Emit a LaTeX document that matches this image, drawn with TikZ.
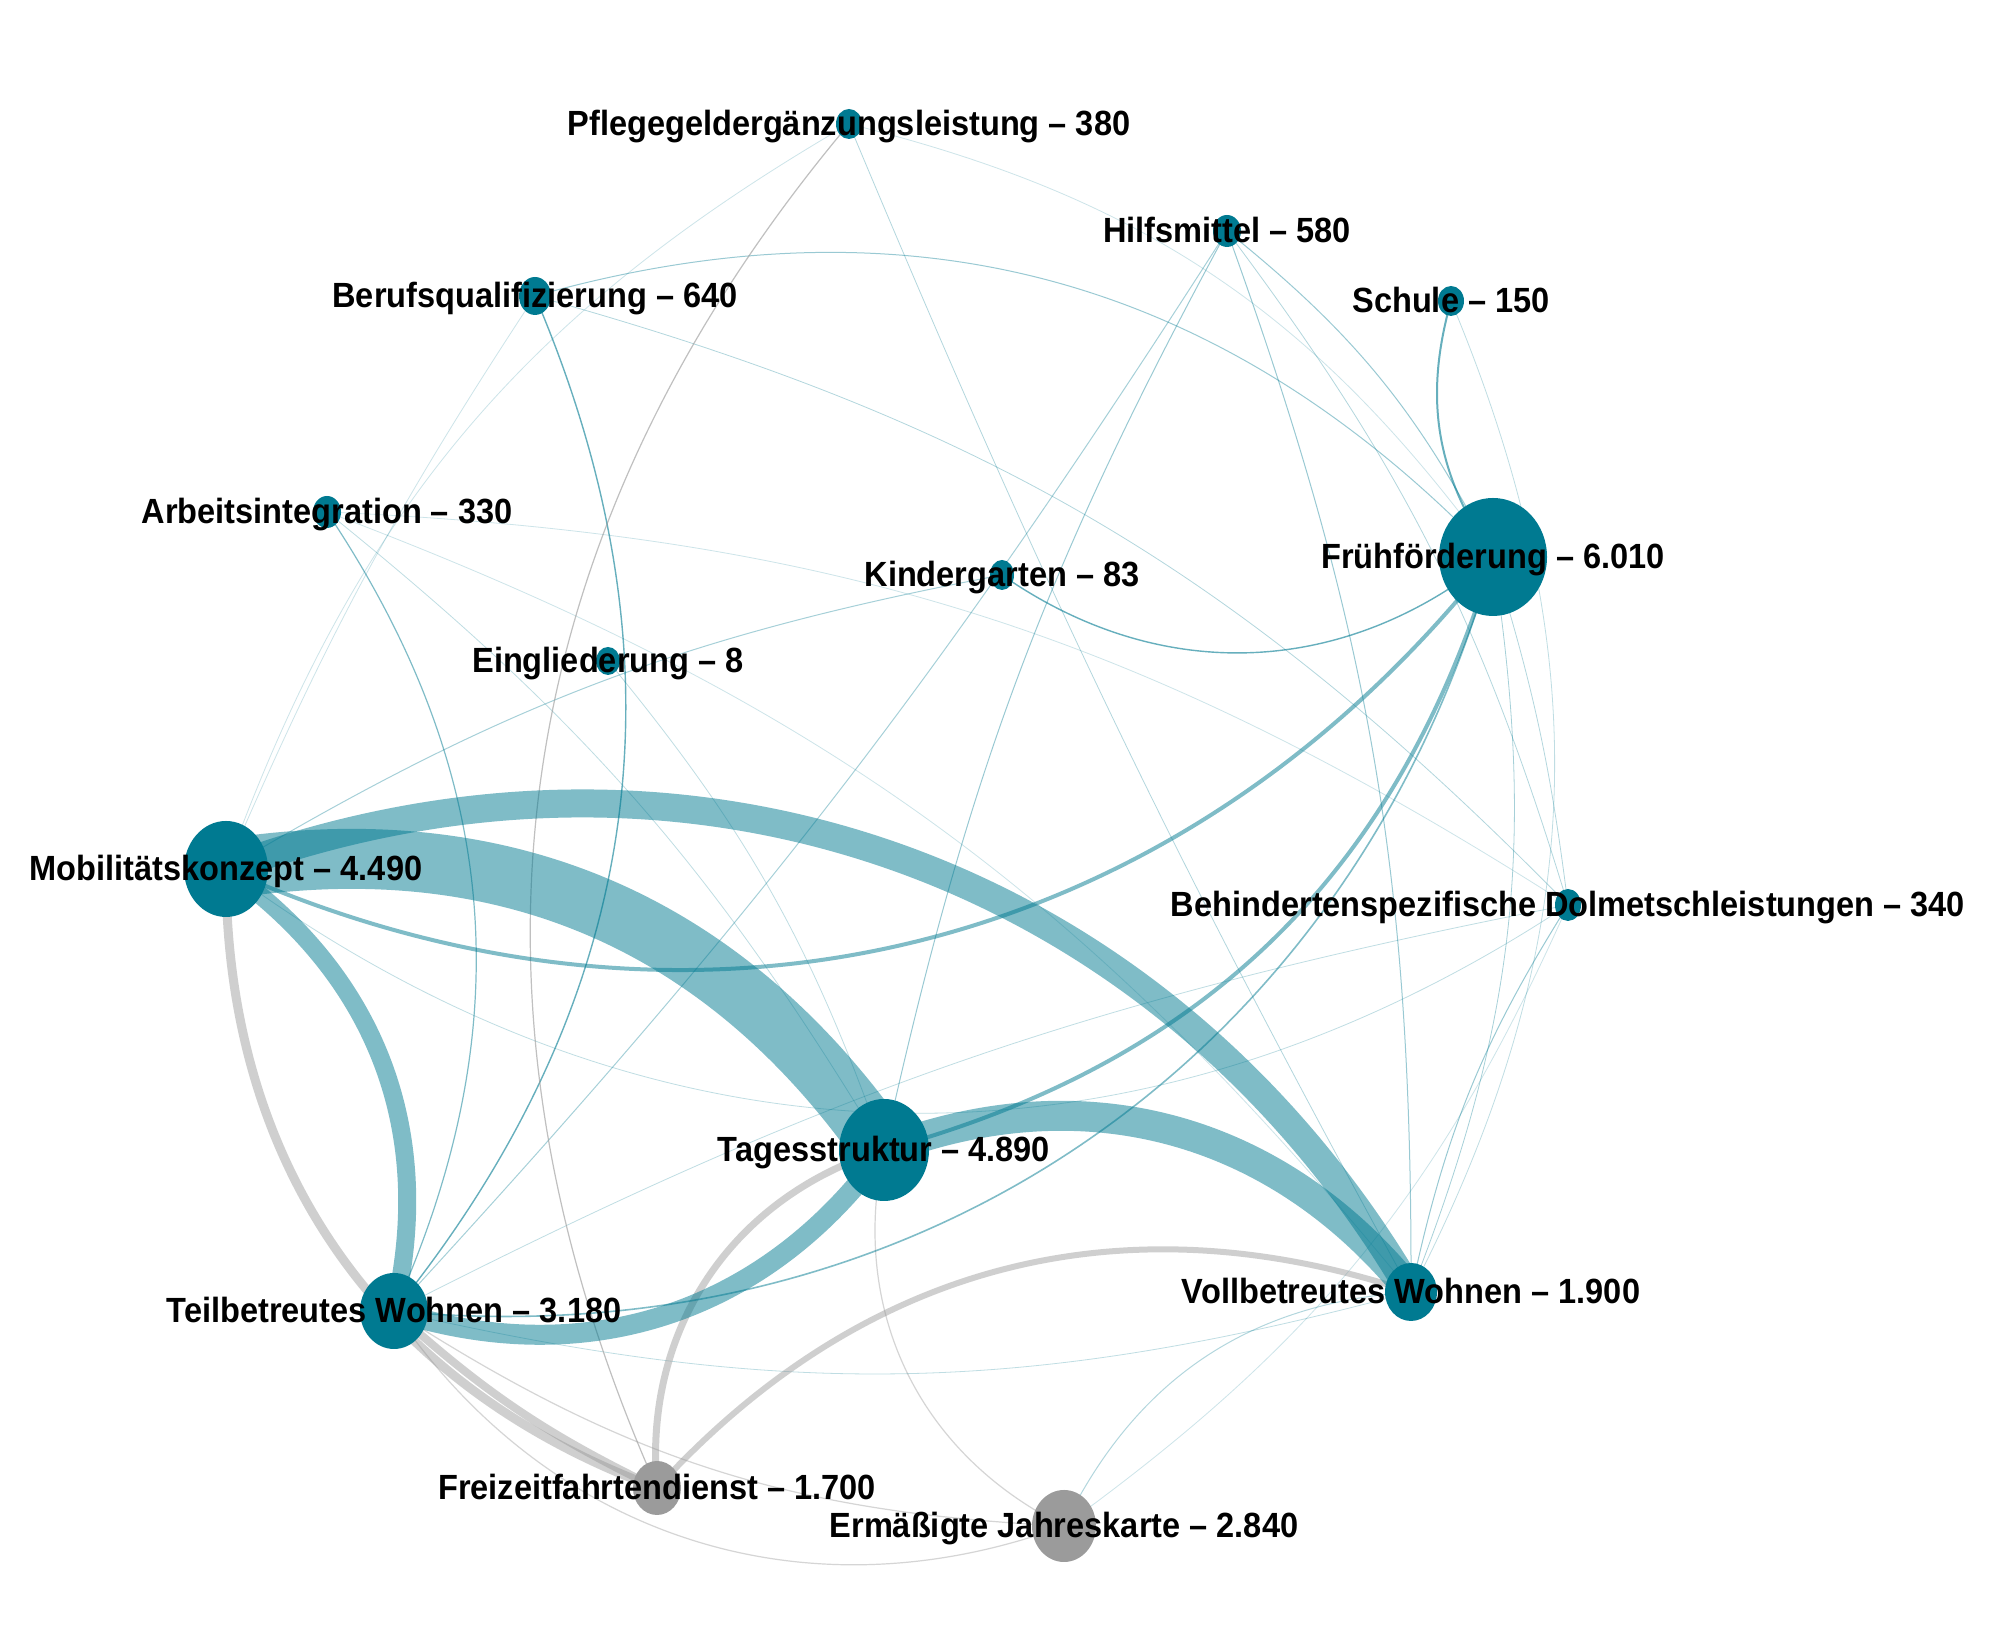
\documentclass[tikz,border=0pt]{standalone}
\usepackage{fontspec}
\setmainfont{Liberation Sans}[FakeStretch=0.93]
\usetikzlibrary{shapes.geometric}
\definecolor{nodeteal}{RGB}{0,122,145}
\definecolor{nodegray}{RGB}{155,155,155}
\definecolor{edgegray}{RGB}{150,150,150}
\pgfdeclarelayer{bg}
\pgfdeclarelayer{edges}
\pgfsetlayers{bg,edges,main}
\tikzset{
  vtx/.style={ellipse, fill=nodeteal, draw=none, inner sep=0pt},
  gvtx/.style={ellipse, fill=nodegray, draw=none, inner sep=0pt},
  lbl/.style={font=\fontsize{17.5}{20}\selectfont\bfseries, anchor=base, yshift=-6pt, inner sep=0pt, text=black},
  te/.style={draw=nodeteal, draw opacity=#1, line cap=butt},
  te/.default=0.5,
  ge/.style={draw=edgegray, draw opacity=#1, line cap=butt},
  ge/.default=0.45
}
\begin{document}
\begin{tikzpicture}[x=0.5pt,y=0.5pt]
\begin{pgfonlayer}{bg}
\fill[white] (0,0) rectangle (1994,1642);
\end{pgfonlayer}
\useasboundingbox (0,0) rectangle (1994,1642);
% nodes
\node[vtx, minimum width=13pt, minimum height=15pt] (P) at (849,1518) {};
\node[vtx, minimum width=14pt, minimum height=16pt] (H) at (1227,1411) {};
\node[vtx, minimum width=13pt, minimum height=15pt] (S) at (1451,1341) {};
\node[vtx, minimum width=16pt, minimum height=19pt] (B) at (535,1346) {};
\node[vtx, minimum width=14pt, minimum height=16pt] (A) at (327,1130) {};
\node[vtx, minimum width=12pt, minimum height=15pt] (K) at (1002,1067) {};
\node[vtx, minimum width=54pt, minimum height=59pt] (F) at (1493,1085) {};
\node[vtx, minimum width=12pt, minimum height=14pt] (E) at (608,981) {};
\node[vtx, minimum width=42pt, minimum height=48pt] (M) at (226,773) {};
\node[vtx, minimum width=13pt, minimum height=16pt] (D) at (1568,737) {};
\node[vtx, minimum width=45pt, minimum height=51pt] (T) at (884,492) {};
\node[vtx, minimum width=26pt, minimum height=29pt] (V) at (1411,350) {};
\node[vtx, minimum width=34pt, minimum height=38pt] (W) at (394,331) {};
\node[gvtx, minimum width=24pt, minimum height=27pt] (Z) at (657,154) {};
\node[gvtx, minimum width=32pt, minimum height=36pt] (J) at (1064,116) {};
% labels
\node[lbl] (Pl) at (P) {Pflegegeldergänzungsleistung – 380};
\node[lbl] (Hl) at (H) {Hilfsmittel – 580};
\node[lbl] (Sl) at (S) {Schule – 150};
\node[lbl] (Bl) at (B) {Berufsqualifizierung – 640};
\node[lbl] (Al) at (A) {Arbeitsintegration – 330};
\node[lbl] (Kl) at (K) {Kindergarten – 83};
\node[lbl] (Fl) at (F) {Frühförderung – 6.010};
\node[lbl] (El) at (E) {Eingliederung – 8};
\node[lbl] (Ml) at (M) {Mobilitätskonzept – 4.490};
\node[lbl] (Dl) at (D) {Behindertenspezifische Dolmetschleistungen – 340};
\node[lbl] (Tl) at (T) {Tagesstruktur – 4.890};
\node[lbl] (Vl) at (V) {Vollbetreutes Wohnen – 1.900};
\node[lbl] (Wl) at (W) {Teilbetreutes Wohnen – 3.180};
\node[lbl] (Zl) at (Z) {Freizeitfahrtendienst – 1.700};
\node[lbl] (Jl) at (J) {Ermäßigte Jahreskarte – 2.840};
\begin{pgfonlayer}{edges}
% faint teal edges
\draw[te=0.25, line width=0.4pt] (S.center) to[bend left=25] (V.center);
\draw[te=0.4, line width=0.5pt] (H.center) to[bend left=12] (F.center);
\draw[te=0.4, line width=0.5pt] (H.center) to[bend left=10] (V.center);
\draw[te=0.4, line width=0.5pt] (H.center) to[bend right=8] (T.center);
\draw[te=0.35, line width=0.5pt] (H.center) to[bend left=5] (W.center);
\draw[te=0.3, line width=0.4pt] (H.center) to[bend left=10] (D.center);
\draw[te=0.4, line width=0.5pt] (B.center) to[bend left=31] (F.center);
\draw[te=0.6, line width=0.7pt] (B.center) to[bend left=31] (W.center);
\draw[te=0.2, line width=0.4pt] (B.center) to[bend right=5] (M.center);
\draw[te=0.3, line width=0.4pt] (B.center) to[bend left=15] (D.center);
\draw[te=0.5, line width=0.6pt] (A.center) to[bend left=29] (W.center);
\draw[te=0.25, line width=0.4pt] (A.center) to[bend left=10] (T.center);
\draw[te=0.2, line width=0.4pt] (A.center) to[bend left=15] (V.center);
\draw[te=0.2, line width=0.4pt] (A.center) to[bend left=15] (D.center);
\draw[te=0.3, line width=0.4pt] (P.center) to[bend right=3] (V.center);
\draw[te=0.2, line width=0.4pt] (P.center) to[bend right=20] (M.center);
\draw[te=0.2, line width=0.4pt] (P.center) to[bend left=20] (F.center);
\draw[te=0.25, line width=0.4pt] (E.center) to[bend left=10] (T.center);
\draw[te=0.6, line width=0.7pt] (K.center) to[bend right=37] (F.center);
\draw[te=0.35, line width=0.5pt] (K.center) to[bend right=10] (M.center);
\draw[te=0.4, line width=0.5pt] (D.center) to[bend right=10] (V.center);
\draw[te=0.25, line width=0.4pt] (D.center) to[bend right=8] (W.center);
\draw[te=0.25, line width=0.4pt] (M.center) to[bend right=35] (D.center);
\draw[te=0.35, line width=0.4pt] (F.center) to[bend left=15] (V.center);
\draw[te=0.3, line width=0.4pt] (F.center) to[bend left=5] (D.center);
\draw[te=0.25, line width=0.4pt] (W.center) to[bend right=14] (V.center);
\draw[te=0.6, line width=1pt] (S.center) to[bend right=25] (F.center);
\draw[te=0.3, line width=0.5pt] (J.center) to[bend left=30] (V.center);
\draw[te=0.2, line width=0.4pt] (J.center) to[bend right=15] (D.center);
% gray edges
\draw[ge=0.45, line width=4.5pt] (M.center) to[bend right=35] (Z.center);
\draw[ge=0.45, line width=4pt] (W.center) to[bend right=8] (Z.center);
\draw[ge=0.45, line width=3.5pt] (T.center) to[bend right=39] (Z.center);
\draw[ge=0.45, line width=3pt] (Z.center) to[bend left=33] (V.center);
\draw[ge=0.4, line width=0.6pt] (W.center) to[bend right=38] (J.center);
\draw[ge=0.4, line width=0.6pt] (W.center) to[bend right=15] (J.center);
\draw[ge=0.4, line width=0.6pt] (T.center) to[bend right=38] (J.center);
\draw[ge=0.6, line width=0.6pt] (P.center) to[bend right=32] (Z.center);
% main teal edges
\draw[te, line width=0.8pt] (W.center) to[bend right=40] (F.center);
\draw[te, line width=2pt] (M.center) to[bend right=38] (F.center);
\draw[te, line width=2pt] (T.center) to[bend right=29] (F.center);
\draw[te, line width=9pt] (M.center) to[bend left=34] (W.center);
\draw[te, line width=10pt] (W.center) to[bend right=36] (T.center);
\draw[te, line width=15pt] (T.center) to[bend left=36] (V.center);
\draw[te, line width=14pt] (M.center) to[bend left=40] (V.center);
\draw[te, line width=30pt] (M.center) to[bend left=32] (T.center);
\end{pgfonlayer}
\end{tikzpicture}
\end{document}
